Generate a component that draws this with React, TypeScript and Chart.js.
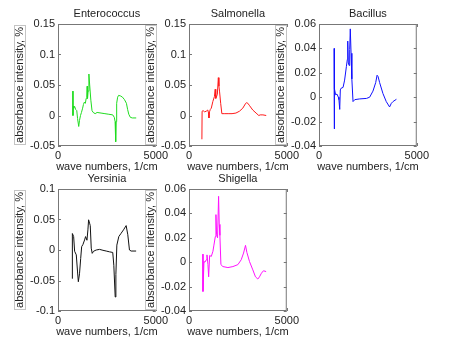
import React, { useEffect, useRef } from "react";
import { Chart, registerables } from "chart.js";

Chart.register(...registerables);

const FONT = '"Liberation Sans", Arial, Helvetica, sans-serif';

// ---- text ----
const titles = ["Enterococcus", "Salmonella", "Bacillus", "Yersinia", "Shigella"];
const xLabel = "wave numbers, 1/cm";
const yLabel = "absorbance intensity, %";

// ---- ticks ----
const xTicks = [0, 5000];
const xTickLabels = ["0", "5000"];
const yTicksA = [-0.05, 0, 0.05, 0.1, 0.15];
const yTickLabelsA = ["-0.05", "0", "0.05", "0.1", "0.15"];
const yTicksB = [-0.04, -0.02, 0, 0.02, 0.04, 0.06];
const yTickLabelsB = ["-0.04", "-0.02", "0", "0.02", "0.04", "0.06"];
const yTicksC = [-0.1, -0.05, 0, 0.05, 0.1];
const yTickLabelsC = ["-0.1", "-0.05", "0", "0.05", "0.1"];

// ---- series (wave number, absorbance) ----
const enterococcus: [number, number][] = [
  [760, 0.04], [765, 0.0], [780, 0.015], [800, 0.012], [850, 0.015], [900, 0.01],
  [960, 0.008], [1000, -0.005], [1060, -0.018], [1100, -0.008], [1150, 0.0],
  [1200, 0.005], [1260, 0.012], [1300, 0.018], [1350, 0.022], [1400, 0.02],
  [1440, 0.028], [1470, 0.03], [1490, 0.048], [1510, 0.028], [1540, 0.04],
  [1580, 0.068], [1620, 0.05], [1680, 0.025], [1740, 0.008], [1800, 0.005],
  [1900, 0.003], [2000, 0.005], [2200, 0.004], [2400, 0.003], [2600, 0.002],
  [2800, 0.001], [2880, -0.003], [2920, -0.01], [2950, -0.043], [2970, -0.01],
  [3000, 0.02], [3050, 0.03], [3100, 0.033], [3200, 0.032], [3300, 0.03],
  [3400, 0.026], [3500, 0.02], [3560, 0.01], [3620, 0.002], [3700, -0.003],
  [3800, -0.004], [4000, -0.004],
];
const salmonella: [number, number][] = [
  [660, -0.039], [670, 0.007], [720, 0.008], [800, 0.006], [880, 0.007], [960, 0.009],
  [1000, 0.004], [1020, -0.004], [1050, 0.006], [1090, 0.01], [1140, 0.012],
  [1220, 0.023], [1300, 0.031], [1340, 0.043], [1370, 0.028], [1400, 0.03],
  [1450, 0.035], [1500, 0.062], [1530, 0.048], [1560, 0.04], [1620, 0.02],
  [1680, 0.003], [1800, 0.003], [2000, 0.003], [2200, 0.003], [2400, 0.004],
  [2580, 0.007], [2750, 0.012], [2900, 0.02], [2950, 0.021], [3010, 0.02],
  [3100, 0.016], [3260, 0.009], [3430, 0.004], [3570, 0.0], [3640, 0.001],
  [3780, 0.001], [3950, 0.0],
];
const bacillus: [number, number][] = [
  [770, 0.04], [775, -0.026], [800, 0.007], [850, 0.002], [920, 0.0025], [990, 0.0],
  [1020, -0.002], [1060, -0.01], [1090, 0.006], [1140, 0.0075], [1230, 0.008],
  [1310, 0.014], [1400, 0.025], [1450, 0.031], [1470, 0.046], [1500, 0.028],
  [1540, 0.026], [1570, 0.039], [1600, 0.056], [1640, 0.036], [1680, 0.015],
  [1740, -0.0036], [1830, -0.002], [2080, -0.0014], [2430, -0.001], [2590, 0.0],
  [2760, 0.005], [2900, 0.012], [2970, 0.018], [3020, 0.017], [3100, 0.012],
  [3270, 0.003], [3440, -0.0036], [3610, -0.008], [3700, -0.005], [3790, -0.0035],
  [3960, -0.0017],
];
const yersinia: [number, number][] = [
  [730, -0.047], [735, 0.027], [800, 0.022], [850, -0.002], [935, -0.008],
  [1000, -0.036], [1040, -0.052], [1100, -0.039], [1160, -0.014], [1210, 0.0055],
  [1275, 0.009], [1360, 0.0165], [1410, 0.022], [1480, 0.016], [1530, 0.033],
  [1565, 0.0495], [1615, 0.044], [1650, 0.04], [1700, 0.003], [1750, -0.0055],
  [1820, -0.002], [1955, 0.0], [2125, 0.001], [2300, -0.0005], [2465, -0.0017],
  [2635, -0.003], [2800, -0.004], [2855, -0.025], [2925, -0.077], [2960, -0.04],
  [3010, 0.008], [3110, 0.022], [3230, 0.0275], [3350, 0.033], [3485, 0.04],
  [3570, 0.025], [3655, 0.0], [3740, -0.0017], [3995, -0.0017],
];
const shigella: [number, number][] = [
  [710, 0.0066], [715, -0.024], [765, 0.0005], [815, 0.0], [885, 0.002], [920, 0.006],
  [970, -0.002], [1005, -0.012], [1055, 0.0055], [1140, 0.0047], [1225, 0.009],
  [1275, 0.014], [1345, 0.021], [1378, 0.039], [1410, 0.0226], [1460, 0.02],
  [1513, 0.054], [1547, 0.031], [1580, 0.022], [1632, -0.002], [1735, -0.0036],
  [1990, -0.0044], [2245, -0.0036], [2500, -0.002], [2670, 0.002], [2790, 0.0075],
  [2890, 0.0138], [2960, 0.008], [3095, 0.0005], [3265, -0.0063], [3400, -0.012],
  [3520, -0.0138], [3605, -0.012], [3705, -0.009], [3810, -0.007], [3945, -0.0077],
];

// ---- layout (plot box positions in the page) ----
const BOX_W = 98;
const BOX_H = 122;
const PAD_L = 50;
const PAD_T = 24;
const PAD_R = 15;
const PAD_B = 36;

const panels = [
  { left: 58, top: 24, title: titles[0], data: enterococcus, color: "#1fdc1f", ticks: yTicksA, labels: yTickLabelsA },
  { left: 189, top: 24, title: titles[1], data: salmonella, color: "#ff1a1a", ticks: yTicksA, labels: yTickLabelsA },
  { left: 319, top: 24, title: titles[2], data: bacillus, color: "#1010ff", ticks: yTicksB, labels: yTickLabelsB },
  { left: 58, top: 189, title: titles[3], data: yersinia, color: "#111111", ticks: yTicksC, labels: yTickLabelsC },
  { left: 189, top: 189, title: titles[4], data: shigella, color: "#ff10ff", ticks: yTicksB, labels: yTickLabelsB },
];

const decorPlugin = {
  id: "decor",
  afterDatasetsDraw(chart: any, _args: any, opts: any) {
    const { ctx, chartArea: a } = chart;
    const xs = chart.scales.x;
    const ys = chart.scales.y;
    ctx.save();
    ctx.strokeStyle = "#777";
    ctx.lineWidth = 1;
    ctx.strokeRect(a.left + 0.5, a.top + 0.5, a.right - a.left - 1, a.bottom - a.top - 1);
    ctx.beginPath();
    for (const v of opts.yTicks) {
      const py = Math.round(ys.getPixelForValue(v)) + 0.5;
      ctx.moveTo(a.left, py);
      ctx.lineTo(a.left + 3, py);
      ctx.moveTo(a.right, py);
      ctx.lineTo(a.right - 3, py);
    }
    for (const v of xTicks) {
      const px = Math.round(xs.getPixelForValue(v)) + 0.5;
      ctx.moveTo(px, a.top);
      ctx.lineTo(px, a.top + 3);
      ctx.moveTo(px, a.bottom);
      ctx.lineTo(px, a.bottom - 3);
    }
    ctx.stroke();

    ctx.font = `11px ${FONT}`;
    ctx.fillStyle = "#222";
    ctx.textAlign = "center";
    ctx.textBaseline = "middle";
    const cx = (a.left + a.right) / 2;
    ctx.fillText(opts.title, cx, a.top - 10);
    ctx.fillText(xLabel, cx, a.bottom + 21);

    ctx.translate(a.left - 38, (a.top + a.bottom) / 2);
    ctx.rotate(-Math.PI / 2);
    const w = ctx.measureText(yLabel).width;
    ctx.fillStyle = "#fff";
    ctx.fillRect(-w / 2 - 2, -6, w + 4, 12);
    ctx.strokeStyle = "#c4c4c4";
    ctx.strokeRect(-w / 2 - 2 + 0.5, -6 + 0.5, w + 3, 11);
    ctx.fillStyle = "#222";
    ctx.fillText(yLabel, 0, 0);
    ctx.restore();
  },
};

function Panel({ p }: { p: (typeof panels)[number] }) {
  const ref = useRef<HTMLCanvasElement | null>(null);
  useEffect(() => {
    if (!ref.current) return;
    const tickFont = { family: FONT, size: 11 };
    const chart = new Chart(ref.current, {
      type: "line",
      data: {
        datasets: [
          {
            data: p.data.map(([x, y]) => ({ x, y })),
            borderColor: p.color,
            borderWidth: 1,
            pointRadius: 0,
            tension: 0,
            fill: false,
          },
        ],
      },
      options: {
        animation: false,
        responsive: false,
        devicePixelRatio: 1,
        layout: { padding: { left: 0, top: PAD_T, right: PAD_R, bottom: 0 } },
        plugins: {
          legend: { display: false },
          tooltip: { enabled: false },
          title: { display: false },
          decor: { title: p.title, yTicks: p.ticks },
        } as any,
        scales: {
          x: {
            type: "linear",
            min: 0,
            max: 5000,
            grid: { display: false, drawTicks: false, tickLength: 0 },
            border: { display: false },
            afterBuildTicks: (s: any) => {
              s.ticks = xTicks.map((v) => ({ value: v }));
            },
            afterFit: (s: any) => {
              s.height = PAD_B;
            },
            ticks: {
              autoSkip: false,
              maxRotation: 0,
              padding: 3,
              color: "#222",
              font: tickFont,
              callback: (_v: any, i: number) => xTickLabels[i],
            },
          },
          y: {
            type: "linear",
            min: p.ticks[0],
            max: p.ticks[p.ticks.length - 1],
            grid: { display: false, drawTicks: false, tickLength: 0 },
            border: { display: false },
            afterBuildTicks: (s: any) => {
              s.ticks = p.ticks.map((v) => ({ value: v }));
            },
            afterFit: (s: any) => {
              s.width = PAD_L;
            },
            ticks: {
              autoSkip: false,
              padding: 3,
              color: "#222",
              font: tickFont,
              callback: (_v: any, i: number) => p.labels[i],
            },
          },
        },
      },
      plugins: [decorPlugin],
    });
    return () => chart.destroy();
  }, [p]);
  const w = PAD_L + BOX_W + PAD_R;
  const h = PAD_T + BOX_H + PAD_B;
  return (
    <canvas
      ref={ref}
      width={w}
      height={h}
      style={{ position: "absolute", left: p.left - PAD_L, top: p.top - PAD_T, width: w, height: h }}
    />
  );
}

export default function App() {
  return (
    <div
      style={{
        position: "fixed",
        left: 0,
        top: 0,
        width: 449,
        height: 345,
        background: "#fff",
        overflow: "hidden",
      }}
    >
      {panels.map((p, i) => (
        <Panel key={i} p={p} />
      ))}
    </div>
  );
}
